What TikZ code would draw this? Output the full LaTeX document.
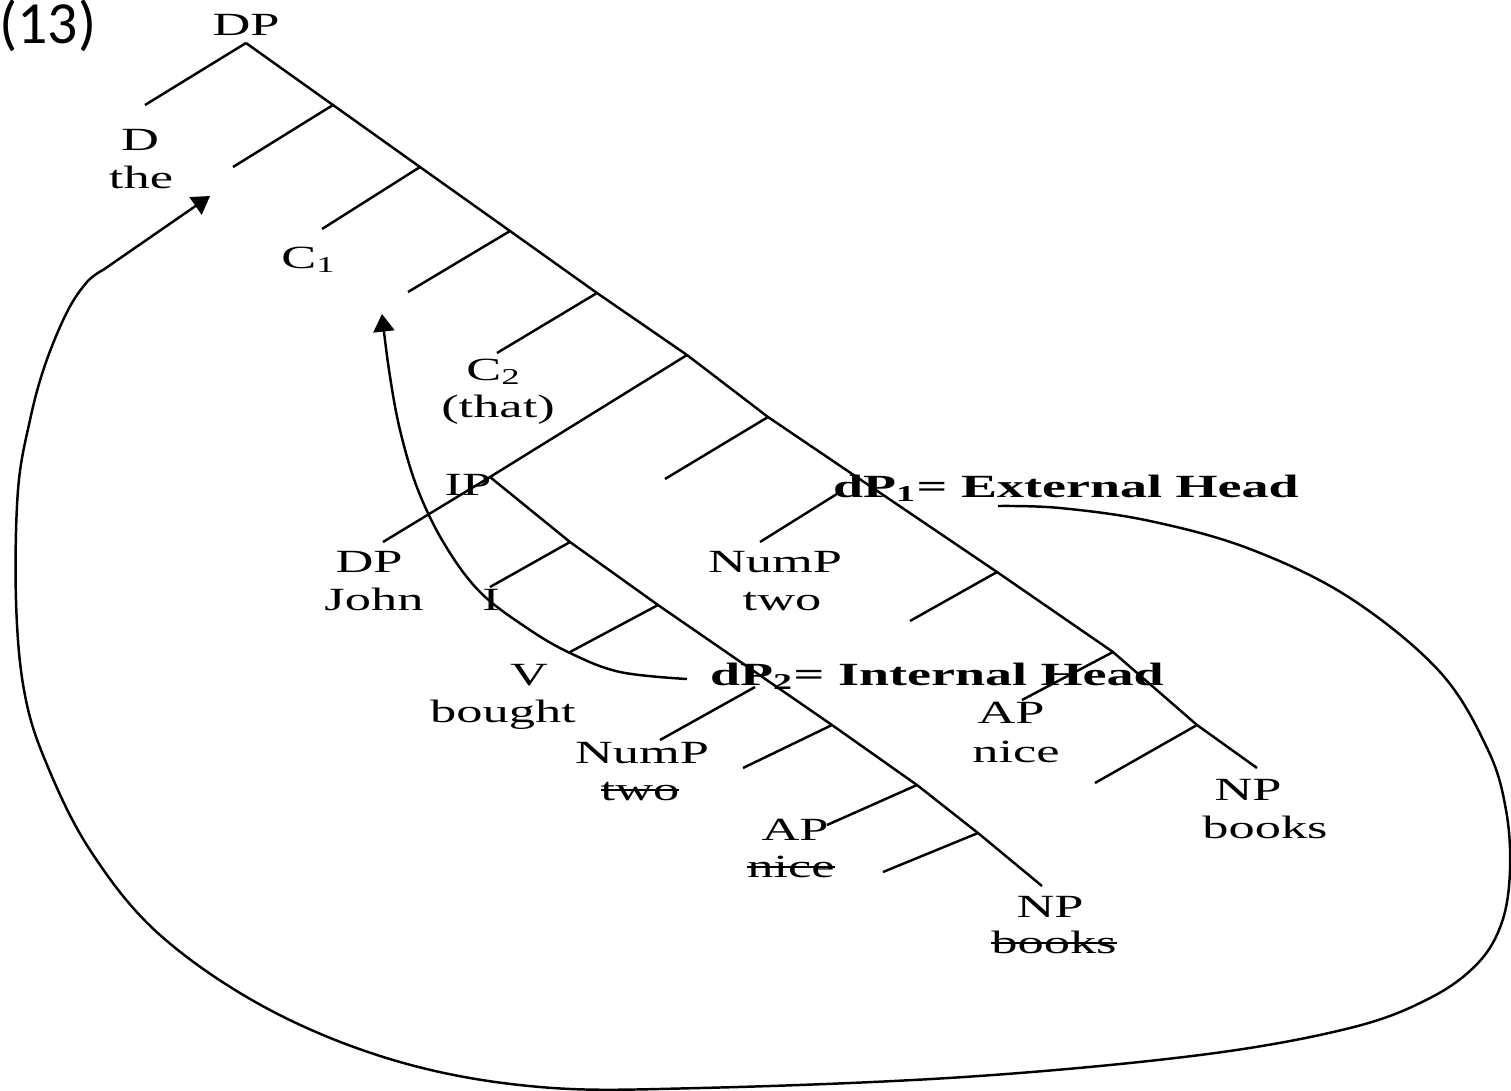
\documentclass[tikz,border=0pt]{standalone}
\usepackage{fontspec}
\setmainfont{Liberation Serif}[FakeStretch=1.62, BoldFeatures={FakeStretch=1.67}]
\newfontfamily\numfont{Carlito}
\usetikzlibrary{arrows.meta}
\newcommand\strikeword[1]{\setbox0=\hbox{#1}\rlap{\rule[0.62ex]{\wd0}{0.55pt}}\box0}
\begin{document}
\begin{tikzpicture}[x=0.01cm,y=-0.01cm,
  every node/.style={inner sep=0pt, outer sep=0pt, text=black},
  lbl/.style={anchor=base, font=\fontsize{9.2}{10.8}\selectfont},
  br/.style={line width=0.7pt, black, line join=round},
  mv/.style={line width=0.7pt, black, -{Triangle[length=5pt,width=6pt]}},
]
\useasboundingbox (0,0) rectangle (1511,1090);

% ---- labels
\node[anchor=base, font=\numfont\fontsize{17}{20}\selectfont] (n13) at (48,43) {(13)};
\node[lbl] (DPtop) at (246,35) {DP};
\node[lbl] (Dcat) at (140,150) {D};
\node[lbl] (Dwd) at (141,188) {the};
\node[lbl] (C1) at (309,268) {C\textsubscript{1}};
\node[lbl] (C2) at (494,380) {C\textsubscript{2}};
\node[lbl] (C2wd) at (498,417) {(that)};
\node[lbl] (IP) at (468,495) {IP};
\node[lbl] (DPj) at (369,572) {DP};
\node[lbl] (John) at (374,610) {John};
\node[lbl] (Icat) at (491,610) {I};
\node[lbl] (Vcat) at (529,685) {V};
\node[lbl] (Vwd) at (503,722) {bought};
\node[lbl] (Num1) at (775,572) {NumP};
\node[lbl] (two1) at (782,610) {two};
\node[lbl, anchor=base west] (dP1) at (833,497) {\textbf{dP\textsubscript{1}= External Head}};
\node[lbl, anchor=base west] (dP2) at (710,685) {\textbf{dP\textsubscript{2}= Internal Head}};
\node[lbl] (AP1) at (1011,723) {AP};
\node[lbl] (nice1) at (1016,762) {nice};
\node[lbl] (NP1) at (1248,800) {NP};
\node[lbl] (books1) at (1265,838) {books};
\node[lbl] (Num2) at (642,763) {NumP};
\node[lbl] (two2) at (640,800) {\strikeword{two}};
\node[lbl] (AP2) at (795,840) {AP};
\node[lbl] (nice2) at (791,877) {\strikeword{nice}};
\node[lbl] (NP2) at (1050,917) {NP};
\node[lbl] (books2) at (1054,953) {\strikeword{books}};

% ---- main spine
\coordinate (m0) at (246,43);
\coordinate (m1) at (333,105);
\coordinate (m2) at (420,167);
\coordinate (m3) at (510,231);
\coordinate (m4) at (597,293);
\coordinate (m5) at (687,355);
\coordinate (m6) at (768,417);
\coordinate (m8) at (997,572);
\coordinate (m9) at (1113,652);
\coordinate (m10) at (1197,725);
\coordinate (m11) at (1257,768);
% left ends
\coordinate (eD) at (145,105);
\coordinate (e1) at (233,167);
\coordinate (e2) at (322,229);
\coordinate (e3) at (408,292);
\coordinate (e4) at (497,353);
\coordinate (e6) at (665,479);
\coordinate (d1l) at (840,492);
\coordinate (eNum1) at (760,542);
\coordinate (e8) at (910,621);
\coordinate (e9) at (1022,700);
\coordinate (e10) at (1095,783);

\draw[br] (m0) -- (m1) -- (m2) -- (m3) -- (m4) -- (m5) -- (m6) -- (m8) -- (m9) -- (m10) -- (m11);
\draw[br] (m0) -- (eD);
\draw[br] (m1) -- (e1);
\draw[br] (m2) -- (e2);
\draw[br] (m3) -- (e3);
\draw[br] (m4) -- (e4);
\draw[br] (m6) -- (e6);
\draw[br] (d1l) -- (eNum1);
\draw[br] (m8) -- (e8);
\draw[br] (m9) -- (e9);
\draw[br] (m10) -- (e10);

% ---- IP spine
\coordinate (i0) at (490,477);
\coordinate (i1) at (570,542);
\coordinate (i2) at (658,605);
\coordinate (i4) at (832,725);
\coordinate (i5) at (917,785);
\coordinate (i6) at (978,833);
\coordinate (i7) at (1042,886);
\coordinate (eDPj) at (383,542);
\coordinate (ei1) at (490,587);
\coordinate (ei2) at (570,652);
\coordinate (d2l) at (755,687);
\coordinate (eNum2) at (660,740);
\coordinate (ei4) at (743,768);
\coordinate (ei5) at (827,825);
\coordinate (ei6) at (883,872);

\draw[br] (m5) -- (i0) -- (eDPj);
\draw[br] (i0) -- (i1) -- (i2) -- (i4) -- (i5) -- (i6) -- (i7);
\draw[br] (i1) -- (ei1);
\draw[br] (i2) -- (ei2);
\draw[br] (d2l) -- (eNum2);
\draw[br] (i4) -- (ei4);
\draw[br] (i5) -- (ei5);
\draw[br] (i6) -- (ei6);

% ---- movement arrows
\coordinate (loopS) at (998,506);
\coordinate (loopE) at (103,270);
\coordinate (tipD) at (210,196);
\draw[br] plot[smooth, tension=0.6] coordinates {(loopS) (1060,508) (1150,521) (1250,549) (1350,598) (1440,672) (1488,750) (1506,810) (1510,870) (1502,922) (1478,963) (1430,998) (1350,1028) (1200,1055) (964,1077) (700,1088) (540,1087) (400,1062) (270,1010) (160,935) (90,850) (45,760) (24,690) (16,600) (18,490) (30,420) (45,365) (67,312) (87,282) (loopE)};
\draw[mv] (loopE) -- (tipD);

\coordinate (mvS) at (687,679);
\coordinate (tipC) at (382,314);
\draw[mv] plot[smooth, tension=0.6] coordinates {(mvS) (620,672) (570,653) (527,628) (480,592) (445,545) (418,490) (400,430) (389,370) (tipC)};
\end{tikzpicture}
\end{document}
